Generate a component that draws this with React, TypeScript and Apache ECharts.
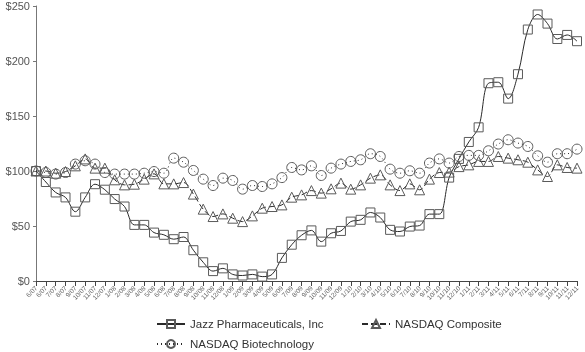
import React, { useEffect, useRef } from "react";
import * as echarts from "echarts";

const categories = [
  "6/07", "6/07", "7/07", "8/07", "9/07", "10/07", "11/07", "12/07",
  "1/08", "2/08", "3/08", "4/08", "5/08", "6/08", "7/08", "8/08", "9/08", "10/08", "11/08", "12/08",
  "1/09", "2/09", "3/09", "4/09", "5/09", "6/09", "7/09", "8/09", "9/09", "10/09", "11/09", "12/09",
  "1/10", "2/10", "3/10", "4/10", "5/10", "6/10", "7/10", "8/10", "9/10", "10/10", "11/10", "12/10",
  "1/11", "2/11", "3/11", "4/11", "5/11", "6/11", "7/11", "8/11", "9/11", "10/11", "11/11", "12/11",
];

const jazz = [
  100, 90, 80.5, 76, 63, 76, 88, 83, 74.5, 67.7, 51, 51, 44, 42, 38, 40, 28, 17, 9, 11.5,
  6, 5, 6, 4, 6, 21, 33, 41.6, 46, 35.8, 43.4, 45.5, 54, 55.6, 62.3, 57.7, 46.5, 45, 49.5, 50.4,
  60.8, 60.8, 94, 111, 126.4, 139.7, 179.8, 180.7, 165.8, 188, 228.6, 242.3, 234, 220, 223.7, 218,
];

const nasdaqComposite = [
  100, 100, 98, 99.5, 104.7, 111, 102.6, 102.6, 92, 87.4, 88, 92.6, 97.4, 88.3, 88.3, 89.5, 79, 65.3, 58.6, 61,
  57.1, 54, 59.2, 66.2, 67.7, 69.2, 76.2, 78.3, 82.2, 79.9, 83.8, 89, 83.5, 87.4, 93.5, 96.5, 87.4, 82.2, 88.3, 82.9,
  92.6, 98.6, 99, 104, 105.6, 108.7, 108.7, 113.2, 111.7, 110.2, 108, 101, 95, 105.6, 103.2, 102.6,
];

const nasdaqBiotech = [
  100, 98.6, 97.2, 98.6, 106.3, 109.3, 106.3, 98.6, 97.2, 97.2, 97.2, 98, 99.5, 98, 111.7, 108, 100.5, 92.6, 86.8, 93.5,
  91.4, 83.5, 86.8, 85.9, 88.3, 94, 103.2, 101, 104.7, 95.9, 102.6, 106.3, 108.7, 110.2, 115.7, 113.2, 101.7, 98, 100.2, 98,
  107.2, 111, 107.2, 113.2, 114.2, 114.2, 118.4, 124.5, 128.4, 125.4, 122.3, 113.8, 108, 115.7, 115.7, 119.9,
];

const yTicks = [0, 50, 100, 150, 200, 250];

const seriesNames = ["Jazz Pharmaceuticals, Inc", "NASDAQ Composite", "NASDAQ Biotechnology"];

export default function App() {
  const ref = useRef<HTMLDivElement>(null);
  useEffect(() => {
    if (!ref.current) return;
    const chart = echarts.init(ref.current, null, { renderer: "svg" });
    const font = "'Liberation Sans', Arial, sans-serif";
    const mk = (name: string, data: number[], symbol: string, type: any, size: number) => ({
      name,
      type: "line",
      data,
      smooth: 0.35,
      symbol,
      symbolSize: size,
      lineStyle: { color: "#2a2a2a", width: 1, type },
      itemStyle: { color: "transparent", borderColor: "#5a5a5a", borderWidth: 1 },
      emphasis: { disabled: true },
    });
    const legendBase = {
      itemWidth: 28,
      itemHeight: 10,
      itemGap: 4,
      padding: 0,
      textStyle: { fontSize: 11.5, color: "#333", fontFamily: font },
      selectedMode: false,
    };
    chart.setOption({
      animation: false,
      textStyle: { fontFamily: font },
      grid: { left: 36, right: 8, top: 6, bottom: 71, containLabel: false },
      xAxis: {
        type: "category",
        data: categories,
        boundaryGap: false,
        axisLine: { lineStyle: { color: "#444", width: 1 } },
        axisTick: { show: true, length: 5, interval: 0, lineStyle: { color: "#444" } },
        axisLabel: {
          interval: 0,
          rotate: 45,
          fontSize: 6.5,
          color: "#666",
          margin: 6,
          fontFamily: font,
        },
        splitLine: { show: false },
      },
      yAxis: {
        type: "value",
        min: yTicks[0],
        max: yTicks[yTicks.length - 1],
        interval: 50,
        axisLine: { show: true, lineStyle: { color: "#777", width: 1 } },
        axisTick: { show: true, length: 3, lineStyle: { color: "#777" } },
        axisLabel: {
          formatter: (v: number) => "$" + v,
          fontSize: 11,
          color: "#555",
          margin: 6,
          fontFamily: font,
        },
        splitLine: { show: false },
      },
      legend: [
        { ...legendBase, data: [seriesNames[0]], left: 156, top: 318 },
        { ...legendBase, data: [seriesNames[1]], left: 361, top: 318 },
        { ...legendBase, data: [seriesNames[2]], left: 156, top: 338 },
      ],
      series: [
        mk(seriesNames[0], jazz, "rect", "solid", 9),
        mk(seriesNames[1], nasdaqComposite, "triangle", [6, 3], 10),
        mk(seriesNames[2], nasdaqBiotech, "circle", [1, 3], 10),
      ],
    });
    return () => chart.dispose();
  }, []);
  return <div ref={ref} style={{ width: 585, height: 352, position: "fixed", left: 0, top: 0 }} />;
}
